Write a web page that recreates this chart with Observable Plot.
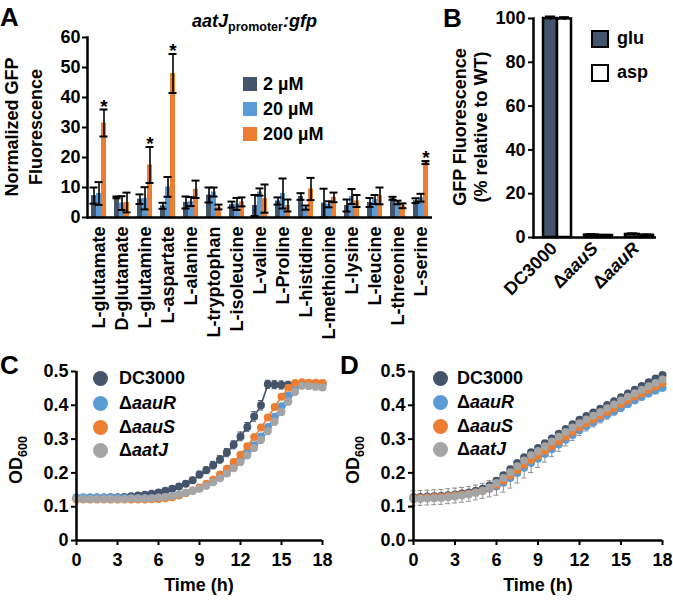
<!DOCTYPE html>
<html>
<head>
<meta charset="utf-8">
<script src="https://cdn.jsdelivr.net/npm/d3@7"></script>
<script src="https://cdn.jsdelivr.net/npm/@observablehq/plot@0.6"></script>
<style>
  body { margin: 0; background: #fff; }
  #fig { position: relative; width: 673px; height: 601px; overflow: hidden; background: #fff;
         font-family: "Liberation Sans", Arial, Helvetica, sans-serif; font-weight: bold; color: #000; }
  #fig .t { position: absolute; white-space: nowrap; }
  #fig .letter { font-size: 26px; line-height: 26px; }
</style>
</head>
<body>
<div id="fig"></div>
<script>
// ---------- Panel A data ----------
const aminoAcids = ["L-glutamate","D-glutamate","L-glutamine","L-aspartate","L-alanine","L-tryptophan","L-isoleucine","L-valine","L-Proline","L-histidine","L-methionine","L-lysine","L-leucine","L-threonine","L-serine"];
const concentrations = ["2 µM","20 µM","200 µM"];
const mean2uM   = [7.3, 6.7, 6.1, 3.9, 5.0, 7.5, 4.3, 4.0, 5.5, 7.0, 4.8, 4.0, 5.0, 6.4, 5.6];
const err2uM    = [2.7, 0.3, 1.6, 1.0, 2.0, 2.5, 1.0, 3.5, 1.2, 1.1, 4.8, 2.0, 1.5, 0.5, 0.8];
const mean20uM  = [8.0, 4.8, 6.4, 10.2, 5.3, 8.5, 4.5, 8.5, 8.0, 3.3, 4.4, 7.0, 6.0, 5.0, 6.6];
const err20uM   = [3.8, 2.3, 3.7, 3.3, 1.5, 1.5, 2.0, 1.2, 5.0, 0.7, 1.0, 2.5, 1.5, 0.6, 1.3];
const mean200uM = [31.5, 5.0, 17.5, 48.0, 9.4, 3.5, 5.2, 6.3, 4.0, 9.5, 6.7, 5.5, 7.2, 3.9, 18.3];
const err200uM  = [4.5, 3.3, 6.0, 6.5, 2.9, 0.8, 1.5, 4.7, 2.0, 3.7, 1.6, 2.0, 2.8, 0.8, 0.5];
const significant200 = [true,false,true,true,false,false,false,false,false,false,false,false,false,false,true];
const yTicksA = [0,10,20,30,40,50,60];

// ---------- Panel B data ----------
const strainsB = ["DC3000","ΔaauS","ΔaauR"];
const aminoB = ["glu","asp"];
const gluB = [100, 1.1, 1.4];
const gluErrB = [0.8, 0.3, 0.4];
const aspB = [99.8, 0.9, 1.0];
const aspErrB = [0.7, 0.2, 0.3];
const yTicksB = [0,20,40,60,80,100];

// ---------- Panels C & D data ----------
const strainsCD = ["DC3000","ΔaauR","ΔaauS","ΔaatJ"];
const timeH = [0,0.5,1,1.5,2,2.5,3,3.5,4,4.5,5,5.5,6,6.5,7,7.5,8,8.5,9,9.5,10,10.5,11,11.5,12,12.5,13,13.5,14,14.5,15,15.5,16,16.5,17,17.5,18];
const xTicksCD = [0,3,6,9,12,15,18];
const yTicksCD = [0,0.1,0.2,0.3,0.4,0.5];

const dc3000C = [.126,.126,.126,.127,.127,.128,.128,.129,.131,.133,.135,.138,.142,.147,.153,.160,.168,.178,.195,.208,.223,.240,.260,.283,.308,.336,.367,.400,.462,.461,.460,.460,.461,.463,.464,.464,.464];
const aauRC   = [.128,.128,.128,.127,.127,.127,.127,.126,.126,.126,.126,.126,.127,.129,.132,.136,.141,.147,.154,.163,.174,.186,.201,.218,.237,.258,.282,.308,.336,.366,.397,.428,.456,.465,.464,.463,.462];
const aauSC   = [.121,.121,.121,.121,.121,.121,.121,.121,.121,.121,.121,.122,.123,.125,.128,.133,.140,.148,.157,.168,.180,.195,.212,.232,.254,.279,.306,.334,.364,.395,.425,.452,.466,.468,.467,.467,.466];
const aatJC   = [.123,.123,.123,.123,.123,.123,.123,.123,.124,.124,.124,.125,.127,.129,.132,.136,.141,.147,.154,.162,.172,.184,.198,.214,.232,.252,.274,.298,.324,.352,.381,.411,.440,.458,.457,.455,.453];
const errDC3000C = [.004,.004,.004,.004,.004,.004,.004,.004,.005,.005,.005,.006,.006,.007,.007,.008,.008,.009,.010,.010,.011,.011,.012,.012,.013,.013,.014,.014,.012,.012,.012,.011,.011,.010,.010,.010,.010];
const errAatJC   = [.004,.004,.004,.004,.004,.004,.004,.004,.004,.004,.004,.004,.004,.004,.005,.005,.005,.006,.006,.007,.007,.008,.008,.009,.009,.010,.010,.011,.011,.011,.011,.010,.010,.009,.009,.009,.009];

const dc3000D = [.128,.129,.130,.131,.132,.134,.136,.139,.142,.147,.153,.163,.177,.193,.211,.229,.246,.261,.274,.288,.302,.316,.330,.344,.357,.368,.379,.390,.401,.412,.424,.435,.446,.457,.468,.479,.490];
const aauRD   = [.125,.126,.127,.128,.129,.131,.133,.135,.138,.142,.147,.153,.160,.171,.185,.200,.215,.229,.242,.256,.270,.284,.298,.312,.326,.338,.349,.360,.371,.382,.393,.404,.415,.425,.435,.444,.452];
const aauSD   = [.125,.126,.127,.128,.129,.131,.133,.135,.138,.142,.147,.155,.164,.177,.192,.208,.224,.238,.251,.265,.279,.293,.307,.321,.335,.347,.358,.369,.380,.391,.403,.414,.425,.435,.445,.455,.465];
const aatJD   = [.122,.123,.124,.125,.126,.128,.130,.133,.136,.141,.147,.157,.170,.185,.202,.220,.237,.252,.265,.279,.293,.307,.321,.334,.347,.358,.369,.380,.391,.402,.414,.425,.436,.446,.456,.466,.476];
const errAauRD = [.022,.022,.022,.022,.022,.022,.022,.022,.022,.022,.022,.024,.026,.028,.030,.030,.030,.028,.026,.024,.022,.020,.018,.016,.015,.014,.013,.012,.012,.011,.011,.010,.010,.010,.010,.010,.010];

// ---------- styling ----------
const DARK = "#44546A", BLUE = "#5B9BD5", ORANGE = "#ED7D31", GRAY = "#A5A5A5";
const FONT = '"Liberation Sans", Arial, Helvetica, sans-serif';
const STYLE = {fontFamily: FONT, fontSize: "18px", fontWeight: "bold", color: "#000", background: "transparent", overflow: "visible"};

const fig = document.getElementById("fig");
function place(node, left, top) {
  const d = document.createElement("div");
  d.style.cssText = `position:absolute;left:${left}px;top:${top}px;`;
  d.appendChild(node);
  fig.appendChild(d);
}
function text(html, left, top, css = "") {
  const d = document.createElement("div");
  d.className = "t";
  d.innerHTML = html;
  d.style.cssText += `left:${left}px;top:${top}px;${css}`;
  fig.appendChild(d);
  return d;
}
function centered(html, cx, cy, css = "", rotate = 0) {
  const d = document.createElement("div");
  d.className = "t";
  d.innerHTML = html;
  d.style.cssText += `left:${cx}px;top:${cy}px;transform:translate(-50%,-50%) rotate(${rotate}deg);text-align:center;${css}`;
  fig.appendChild(d);
  return d;
}
function italicizeDelta(svg) {
  svg.querySelectorAll("text").forEach(t => {
    const s = t.textContent;
    if (/^Δ/.test(s) && t.children.length === 0) {
      t.textContent = "Δ";
      const ts = document.createElementNS("http://www.w3.org/2000/svg", "tspan");
      ts.setAttribute("font-style", "italic");
      ts.textContent = s.slice(1);
      t.appendChild(ts);
    }
  });
}

// ---------- Panel A ----------
const rowsA = [];
const meansA = [mean2uM, mean20uM, mean200uM], errsA = [err2uM, err20uM, err200uM];
aminoAcids.forEach((aa, i) => {
  concentrations.forEach((c, j) => {
    rowsA.push({aa, conc: c, value: meansA[j][i], err: errsA[j][i], sig: j === 2 && significant200[i]});
  });
});

const plotA = Plot.plot({
  width: 445, height: 350,
  marginLeft: 81, marginRight: 8, marginTop: 37, marginBottom: 133,
  style: STYLE,
  fx: {domain: aminoAcids, paddingInner: 0, paddingOuter: 0},
  x: {domain: concentrations, paddingInner: 0, paddingOuter: 0.5, axis: null},
  y: {domain: [0, 60]},
  color: {domain: concentrations, range: [DARK, BLUE, ORANGE]},
  marks: [
    Plot.barY(rowsA, {fx: "aa", x: "conc", y: "value", fill: "conc"}),
    Plot.ruleX(rowsA, {fx: "aa", x: "conc", y1: d => d.value - d.err, y2: d => d.value + d.err, stroke: "#000", strokeWidth: 1.6}),
    Plot.tickY(rowsA, {fx: "aa", x: "conc", y: d => d.value + d.err, stroke: "#000", strokeWidth: 2, insetLeft: -1.5, insetRight: -1.5}),
    Plot.tickY(rowsA, {fx: "aa", x: "conc", y: d => d.value - d.err, stroke: "#000", strokeWidth: 2, insetLeft: -1.5, insetRight: -1.5}),
    Plot.text(rowsA.filter(d => d.sig), {fx: "aa", x: "conc", y: d => d.value + d.err, text: () => "*", dy: -3, fontSize: 19, fontWeight: "bold", fill: "#000"}),
    Plot.ruleY([0], {stroke: "#000", strokeWidth: 2.5}),
    Plot.frame({anchor: "left", facetAnchor: "left", stroke: "#000", strokeWidth: 2.5}),
    Plot.axisY({ticks: yTicksA, tickSize: 5, tickPadding: 2, strokeWidth: 2, label: null}),
    Plot.axisFx({anchor: "bottom", tickRotate: -90, tickSize: 0, tickPadding: 9, label: null})
  ]
});
place(plotA, 0, 0);

// ---------- Panel B ----------
const rowsB = [];
strainsB.forEach((s, i) => {
  rowsB.push({strain: s, amino: "glu", value: gluB[i], err: gluErrB[i]});
  rowsB.push({strain: s, amino: "asp", value: aspB[i], err: aspErrB[i]});
});
const plotB = Plot.plot({
  width: 233, height: 330,
  marginLeft: 92, marginRight: 16, marginTop: 18, marginBottom: 93,
  style: STYLE,
  fx: {domain: strainsB, paddingInner: 0, paddingOuter: 0},
  x: {domain: aminoB, paddingInner: 0, paddingOuter: 0.39, align: 0.8, axis: null},
  y: {domain: [0, 100]},
  color: {domain: aminoB, range: [DARK, "#FFFFFF"]},
  marks: [
    Plot.barY(rowsB, {fx: "strain", x: "amino", y: "value", fill: "amino", stroke: "#000", strokeWidth: 2.5}),
    Plot.ruleX(rowsB, {fx: "strain", x: "amino", y1: d => d.value - d.err, y2: d => d.value + d.err, stroke: "#000", strokeWidth: 1.6}),
    Plot.tickY(rowsB, {fx: "strain", x: "amino", y: d => d.value + d.err, stroke: "#000", strokeWidth: 2.5, insetLeft: 2, insetRight: 2}),
    Plot.ruleY([0], {stroke: "#000", strokeWidth: 2.5}),
    Plot.frame({anchor: "left", facetAnchor: "left", stroke: "#000", strokeWidth: 2.5}),
    Plot.axisY({ticks: yTicksB, tickSize: 5, tickPadding: 3, strokeWidth: 2, label: null}),
    Plot.axisFx({anchor: "bottom", tickRotate: -45, tickSize: 0, tickPadding: 8, label: null})
  ]
});
italicizeDelta(plotB);
place(plotB, 440, 0);

// ---------- Panels C & D ----------
function growthRows(series) {
  const rows = [];
  series.forEach(([name, vals]) => vals.forEach((v, i) => rows.push({series: name, t: timeH[i], v})));
  return rows;
}
function errRows(name, vals, errs) {
  return vals.map((v, i) => ({series: name, t: timeH[i], lo: v - errs[i], hi: v + errs[i]}));
}
function growthPlot(rows, errs, errColors, zeroFmt, marginRight) {
  return Plot.plot({
    width: 336, height: 261,
    marginLeft: 76, marginRight, marginTop: 31, marginBottom: 61,
    style: STYLE,
    x: {domain: [0, 18]},
    y: {domain: [0, 0.5]},
    color: {domain: strainsCD, range: [DARK, BLUE, ORANGE, GRAY]},
    marks: [
      Plot.line(rows, {x: "t", y: "v", z: "series", stroke: "series", strokeWidth: 1.6}),
      ...errs.flatMap((e, k) => [
        Plot.ruleX(e, {x: "t", y1: "lo", y2: "hi", stroke: errColors[k], strokeWidth: 1}),
        Plot.ruleY(e, {x1: "t", x2: "t", y: "hi", stroke: errColors[k], strokeWidth: 1, insetLeft: -2.5, insetRight: -2.5}),
        Plot.ruleY(e, {x1: "t", x2: "t", y: "lo", stroke: errColors[k], strokeWidth: 1, insetLeft: -2.5, insetRight: -2.5})
      ]),
      Plot.dot(rows, {x: "t", y: "v", fill: "series", r: 4}),
      Plot.ruleX([0], {stroke: "#000", strokeWidth: 2.5}),
      Plot.ruleY([0], {stroke: "#000", strokeWidth: 2.5}),
      Plot.axisX({ticks: xTicksCD, tickSize: 5, tickPadding: 8, strokeWidth: 2, label: null}),
      Plot.axisY({ticks: yTicksCD, tickSize: 5, tickPadding: 3, strokeWidth: 2, label: null,
                  tickFormat: d => d === 0 ? zeroFmt : d.toFixed(1)})
    ]
  });
}
const rowsC = growthRows([["DC3000", dc3000C], ["ΔaauR", aauRC], ["ΔaauS", aauSC], ["ΔaatJ", aatJC]]);
const plotC = growthPlot(rowsC,
  [errRows("DC3000", dc3000C, errDC3000C), errRows("ΔaatJ", aatJC, errAatJC)],
  [DARK, "#9a9a9a"], "0", 14);
place(plotC, 0, 340);

const rowsD = growthRows([["DC3000", dc3000D], ["ΔaauR", aauRD], ["ΔaauS", aauSD], ["ΔaatJ", aatJD]]);
const plotD = growthPlot(rowsD, [errRows("ΔaauR", aauRD, errAauRD)], ["#8f8f8f"], "0.0", 11);
place(plotD, 337, 340);

// ---------- text & legends ----------
text("A", 0, 3.5).className = "t letter";
text("B", 443, 4.5).className = "t letter";
text("C", 0, 351.5).className = "t letter";
text("D", 340, 351.5).className = "t letter";

text('<i>aatJ</i><span style="font-size:12.5px;position:relative;top:4px;font-style:normal">promoter</span><i>:gfp</i>', 192, 11, "font-size:18px;");

centered("Normalized GFP<br>Fluorescence", 24, 127, "font-size:18px;line-height:24px;", -90);
centered("GFP Fluorescence<br>(% relative to WT)", 471, 127, "font-size:18px;line-height:21px;", -90);

// Panel A legend
const legA = [[DARK, "2 µM", 84], [BLUE, "20 µM", 108.5], [ORANGE, "200 µM", 133.5]];
legA.forEach(([c, lab, cy]) => {
  const sw = document.createElement("div");
  sw.style.cssText = `position:absolute;left:243px;top:${cy - 7}px;width:14px;height:14px;background:${c};`;
  fig.appendChild(sw);
  centered(lab, 0, cy, "font-size:18px;transform:translate(0,-50%);left:263px;");
});

// Panel B legend
[[DARK, "glu", 38.5], ["#FFFFFF", "asp", 72.5]].forEach(([c, lab, cy]) => {
  const sw = document.createElement("div");
  sw.style.cssText = `position:absolute;left:591px;top:${cy - 9}px;width:14px;height:14px;background:${c};border:2.5px solid #000;`;
  fig.appendChild(sw);
  centered(lab, 0, cy - 1, "font-size:18px;transform:translate(0,-50%);left:617px;");
});

// Panels C/D legends
const legCD = [["DC3000", DARK, "DC3000"], ["ΔaauR", BLUE, "Δ<i>aauR</i>"], ["ΔaauS", ORANGE, "Δ<i>aauS</i>"], ["ΔaatJ", GRAY, "Δ<i>aatJ</i>"]];
function growthLegend(cx, ys, textX) {
  legCD.forEach(([name, c, html], k) => {
    const dot = document.createElement("div");
    dot.style.cssText = `position:absolute;left:${cx - 7.5}px;top:${ys[k] - 7.5}px;width:15px;height:15px;border-radius:50%;background:${c};`;
    fig.appendChild(dot);
    centered(html, 0, ys[k], `font-size:18px;transform:translate(0,-50%);left:${textX}px;`);
  });
}
growthLegend(100, [378, 403, 427, 450], 119);
growthLegend(440, [378, 402, 426, 449], 457);

// axis titles C/D
centered("OD<sub style='font-size:12.5px'>600</sub>", 18, 460, "font-size:18px;", -90);
centered("OD<sub style='font-size:12.5px'>600</sub>", 355, 460, "font-size:18px;", -90);
centered("Time (h)", 199, 585, "font-size:18px;");
centered("Time (h)", 538, 585, "font-size:18px;");
</script>
</body>
</html>
